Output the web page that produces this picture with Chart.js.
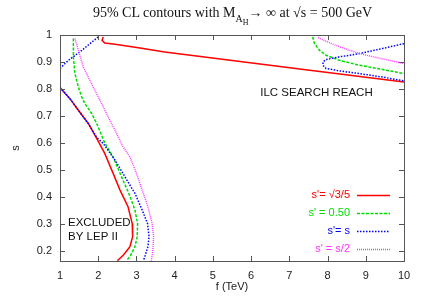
<!DOCTYPE html>
<html>
<head>
<meta charset="utf-8">
<script src="https://cdn.jsdelivr.net/npm/chart.js@4.4.1/dist/chart.umd.min.js"></script>
<style>
  body { margin: 0; background: #fff; overflow: hidden; }
  #wrap { position: relative; width: 425px; height: 297px; }
  #title {
    position: absolute; left: 20px; top: 5px; width: 425px;
    text-align: center; font: 14px "Liberation Serif", serif; color: #111;
    line-height: 16px; white-space: nowrap;
  }
  #title .s1 { font-size: 10px; position: relative; top: 5px; }
  #title .s2 { font-size: 8px; position: relative; top: 3px; }
</style>
</head>
<body>
<div id="wrap">
  <canvas id="myChart" width="425" height="297"></canvas>
  <div id="title">95% CL contours with M<span class="s1">A<span class="s2">H</span></span>→ ∞ at √s = 500 GeV</div>
</div>
<script>
// tick values / labels
const xTicks = [1, 2, 3, 4, 5, 6, 7, 8, 9, 10];
const xTickLabels = ['1', '2', '3', '4', '5', '6', '7', '8', '9', '10'];
const yTicks = [0.2, 0.3, 0.4, 0.5, 0.6, 0.7, 0.8, 0.9, 1];
const yTickLabels = ['0.2', '0.3', '0.4', '0.5', '0.6', '0.7', '0.8', '0.9', '1'];

const seriesNames = ["s'= √3/5", "s' = 0.50", "s'= s", "s' = s/2"];

// contour branches, null separates branches
const redF = [1.00, 1.26, 1.48, 1.74, 1.96, 2.17, 2.39, 2.57, 2.78, 2.89, 2.90, 2.83, 2.66, 2.50,
  null, 2.13, 2.10, 2.17, 2.44, 3.05, 3.74, 7.27, 10.0];
const redS = [0.805, 0.764, 0.721, 0.672, 0.617, 0.561, 0.487, 0.425, 0.363, 0.301, 0.252, 0.215, 0.184, 0.163,
  null, 0.993, 0.980, 0.970, 0.966, 0.953, 0.937, 0.874, 0.826];

const greenF = [1.35, 1.35, 1.39, 1.48, 1.57, 1.65, 1.83, 2.00, 2.17, 2.39, 2.61, 2.80, 2.96, 3.03, 3.02, 2.96, 2.83, 2.74,
  null, 7.61, 7.66, 7.79, 7.96, 8.31, 8.83, 9.44, 10.0];
const greenS = [0.987, 0.919, 0.857, 0.807, 0.770, 0.746, 0.709, 0.659, 0.600, 0.548, 0.474, 0.413, 0.351, 0.301, 0.252, 0.215, 0.178, 0.163,
  null, 0.993, 0.968, 0.943, 0.925, 0.906, 0.888, 0.872, 0.857];

const blueF = [1.00, 1.22, 1.57, 2.00,
  null, 1.00, 1.26, 1.48, 1.74, 1.96, 2.13, 2.44, 2.70, 2.96, 3.15, 3.29, 3.33, 3.30, 3.22, 3.18,
  null, 10.0, 9.44, 8.83, 8.31, 7.96, 7.88, 7.88, 7.96, 8.31, 8.83, 9.44, 10.0];
const blueS = [0.876, 0.906, 0.943, 0.993,
  null, 0.805, 0.764, 0.721, 0.672, 0.620, 0.598, 0.536, 0.474, 0.413, 0.351, 0.301, 0.252, 0.215, 0.178, 0.163,
  null, 0.968, 0.950, 0.931, 0.919, 0.909, 0.900, 0.888, 0.876, 0.867, 0.857, 0.844, 0.830];

const magentaF = [1.39, 1.48, 1.61, 1.74, 1.91, 2.09, 2.26, 2.48, 2.65, 2.83, 3.00, 3.15, 3.30, 3.41, 3.45, 3.43, 3.39,
  null, 7.75, 8.14, 8.57, 9.01, 9.53, 10.0];
const magentaS = [0.987, 0.943, 0.881, 0.844, 0.795, 0.746, 0.696, 0.635, 0.585, 0.548, 0.487, 0.425, 0.363, 0.301, 0.252, 0.203, 0.163,
  null, 0.99, 0.966, 0.943, 0.925, 0.909, 0.894];

const toPts = (fs, ss) => fs.map((f, i) => ({ x: f, y: ss[i] }));

const sansFont = 'Liberation Sans, Arial, sans-serif';

// gnuplot look: frame, inward ticks, labels, key
const framePlugin = {
  id: 'frame',
  afterDatasetsDraw(chart) {
    const { ctx, chartArea: a, scales } = chart;
    const xs = scales.x, ys = scales.y;
    ctx.save();
    ctx.strokeStyle = '#555';
    ctx.lineWidth = 1;
    ctx.strokeRect(a.left + 0.5, a.top + 0.5, a.right - a.left, a.bottom - a.top);
    ctx.beginPath();
    xTicks.forEach(v => {
      const px = Math.round(xs.getPixelForValue(v)) + 0.5;
      ctx.moveTo(px, a.bottom); ctx.lineTo(px, a.bottom - 5);
      ctx.moveTo(px, a.top); ctx.lineTo(px, a.top + 5);
    });
    yTicks.forEach(v => {
      const py = Math.round(ys.getPixelForValue(v)) + 0.5;
      ctx.moveTo(a.left, py); ctx.lineTo(a.left + 5, py);
      ctx.moveTo(a.right, py); ctx.lineTo(a.right - 5, py);
    });
    ctx.stroke();

    // labels
    ctx.fillStyle = '#111';
    ctx.font = '11.5px ' + sansFont;
    ctx.textBaseline = 'middle';
    ctx.textAlign = 'center';
    ctx.fillText('ILC SEARCH REACH', xs.getPixelForValue(7.71), ys.getPixelForValue(0.784));
    ctx.textAlign = 'left';
    ctx.fillText('EXCLUDED', xs.getPixelForValue(1.21), ys.getPixelForValue(0.303));
    ctx.fillText('BY LEP II', xs.getPixelForValue(1.21), ys.getPixelForValue(0.251));

    // key
    ctx.font = '11px ' + sansFont;
    chart.data.datasets.forEach((ds, i) => {
      const y = a.bottom - 66 + i * 18;
      ctx.textAlign = 'right';
      ctx.fillStyle = ds.borderColor;
      ctx.fillText(ds.label, a.right - 54, y);
      ctx.beginPath();
      ctx.strokeStyle = ds.borderColor;
      ctx.lineWidth = ds.borderWidth;
      ctx.setLineDash(ds.borderDash || []);
      ctx.moveTo(a.right - 47, y + 0.5);
      ctx.lineTo(a.right - 14, y + 0.5);
      ctx.stroke();
    });
    ctx.restore();
  }
};

const ctx = document.getElementById('myChart').getContext('2d');
const myChart = new Chart(ctx, {
  type: 'scatter',
  data: {
    datasets: [
      { label: seriesNames[0], data: toPts(redF, redS), borderColor: '#ff0000', borderWidth: 1.5, showLine: true, order: 3 },
      { label: seriesNames[1], data: toPts(greenF, greenS), borderColor: '#00dd00', borderWidth: 1.5, borderDash: [3, 1.5], showLine: true, order: 2 },
      { label: seriesNames[2], data: toPts(blueF, blueS), borderColor: '#0000ff', borderWidth: 1.5, borderDash: [1.5, 1.5], showLine: true, order: 1 },
      { label: seriesNames[3], data: toPts(magentaF, magentaS), borderColor: '#ff33ff', borderWidth: 1.4, borderDash: [1, 1], showLine: true, order: 0 }
    ]
  },
  options: {
    responsive: false,
    animation: false,
    layout: { padding: { left: 0, right: 21, top: 35, bottom: 0 } },
    elements: { point: { radius: 0 }, line: { tension: 0 } },
    plugins: { legend: { display: false }, tooltip: { enabled: false } },
    scales: {
      x: {
        type: 'linear', min: 1, max: 10,
        afterFit: s => { s.height = 36; },
        afterBuildTicks: s => { s.ticks = xTicks.map(v => ({ value: v })); },
        grid: { display: false, drawTicks: false },
        border: { display: false },
        ticks: { padding: 8, color: '#222', maxRotation: 0, font: { family: sansFont, size: 11 },
          callback: (v, i) => xTickLabels[i] },
        title: { display: true, text: 'f (TeV)', color: '#222', font: { family: sansFont, size: 11 },
          padding: { top: 0, bottom: 3 } }
      },
      y: {
        type: 'linear', min: 0.162, max: 1,
        afterFit: s => { s.width = 60; },
        afterBuildTicks: s => { s.ticks = yTicks.map(v => ({ value: v })); },
        grid: { display: false, drawTicks: false },
        border: { display: false },
        ticks: { padding: 8, color: '#222', font: { family: sansFont, size: 11 },
          callback: (v, i) => yTickLabels[i] },
        title: { display: true, text: 's', color: '#222', font: { family: sansFont, size: 11 },
          padding: { top: 9, bottom: 0 } }
      }
    }
  },
  plugins: [framePlugin]
});
</script>
</body>
</html>
